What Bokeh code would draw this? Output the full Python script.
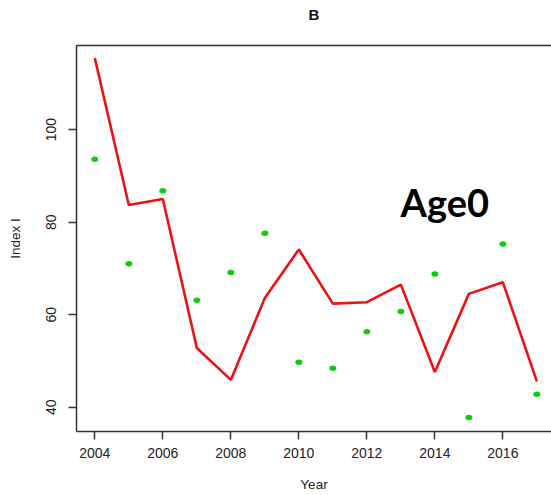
from bokeh.plotting import figure
from bokeh.models import FixedTicker, Label, Range1d, LinearAxis
from bokeh.embed import file_html
from bokeh.resources import INLINE

years = [2004, 2005, 2006, 2007, 2008, 2009, 2010, 2011, 2012, 2013, 2014, 2015, 2016, 2017]
model_index = [115.5, 83.7, 85.0, 52.8, 45.9, 63.6, 74.1, 62.4, 62.7, 66.5, 47.6, 64.5, 67.0, 45.6]
observed_index = [93.6, 71.0, 86.8, 63.1, 69.1, 77.6, 49.7, 48.4, 56.3, 60.7, 68.8, 37.8, 75.3, 42.8]
x_ticks = [2004, 2006, 2008, 2010, 2012, 2014, 2016]
y_ticks = [40, 60, 80, 100]

x_lo, x_hi = 2003.462, 2017.43
y_lo, y_hi = 34.75, 118.2

p = figure(width=551, height=495, output_backend="svg", toolbar_location=None,
           x_range=Range1d(x_lo, x_hi), y_range=Range1d(y_lo, y_hi),
           min_border_left=76, min_border_right=0, min_border_top=45, min_border_bottom=64)
p.outline_line_color = None
p.background_fill_color = "white"
p.border_fill_color = "white"
p.xgrid.grid_line_color = None
p.ygrid.grid_line_color = None

p.line(years, model_index, line_color="#ee1111", line_width=2.6)
p.ellipse(years, observed_index, width=7, height=5.5, width_units="screen", height_units="screen",
          fill_color="#11cc11", line_color=None)

for ax in (p.xaxis[0], p.yaxis[0]):
    ax.axis_line_color = "#333333"
    ax.axis_line_width = 1.5
    ax.major_tick_line_color = "#333333"
    ax.major_tick_line_width = 1.5
    ax.major_tick_in = 0
    ax.major_tick_out = 8
    ax.minor_tick_line_color = None
    ax.major_label_text_font = "Liberation Sans"
    ax.major_label_text_font_size = "14px"
    ax.major_label_text_color = "#222222"
    ax.axis_label_text_font = "Liberation Sans"
    ax.axis_label_text_font_size = "13.5px"
    ax.axis_label_text_font_style = "normal"
    ax.axis_label_text_color = "#222222"

p.xaxis.ticker = FixedTicker(ticks=x_ticks)
p.yaxis.ticker = FixedTicker(ticks=y_ticks)
p.yaxis.major_label_orientation = "vertical"
p.xaxis.axis_label = "Year"
p.yaxis.axis_label = "Index I"
p.xaxis.major_label_standoff = 8
p.xaxis.axis_label_standoff = 16
p.yaxis.major_label_standoff = 12
p.yaxis.axis_label_standoff = 21

# top border of the box, and panel title "B" carried by a bare axis above
top_axis = LinearAxis(axis_label="B", ticker=FixedTicker(ticks=[]),
                      axis_line_color="#333333", axis_line_width=1.5,
                      major_tick_line_color=None, minor_tick_line_color=None,
                      major_label_text_font_size="0px", major_label_standoff=0,
                      major_tick_out=0, major_tick_in=0,
                      axis_label_text_font="Liberation Sans", axis_label_text_font_style="bold",
                      axis_label_text_font_size="15px", axis_label_text_color="#111111",
                      axis_label_standoff=23)
p.add_layout(top_axis, "above")

p.add_layout(Label(x=2012.99, y=84.26, text="Age0", text_font="Lato", text_font_style="bold",
                   text_font_size="38px", text_color="black", text_align="left",
                   text_baseline="alphabetic"))

open("out.html", "w").write(file_html(p, INLINE))
